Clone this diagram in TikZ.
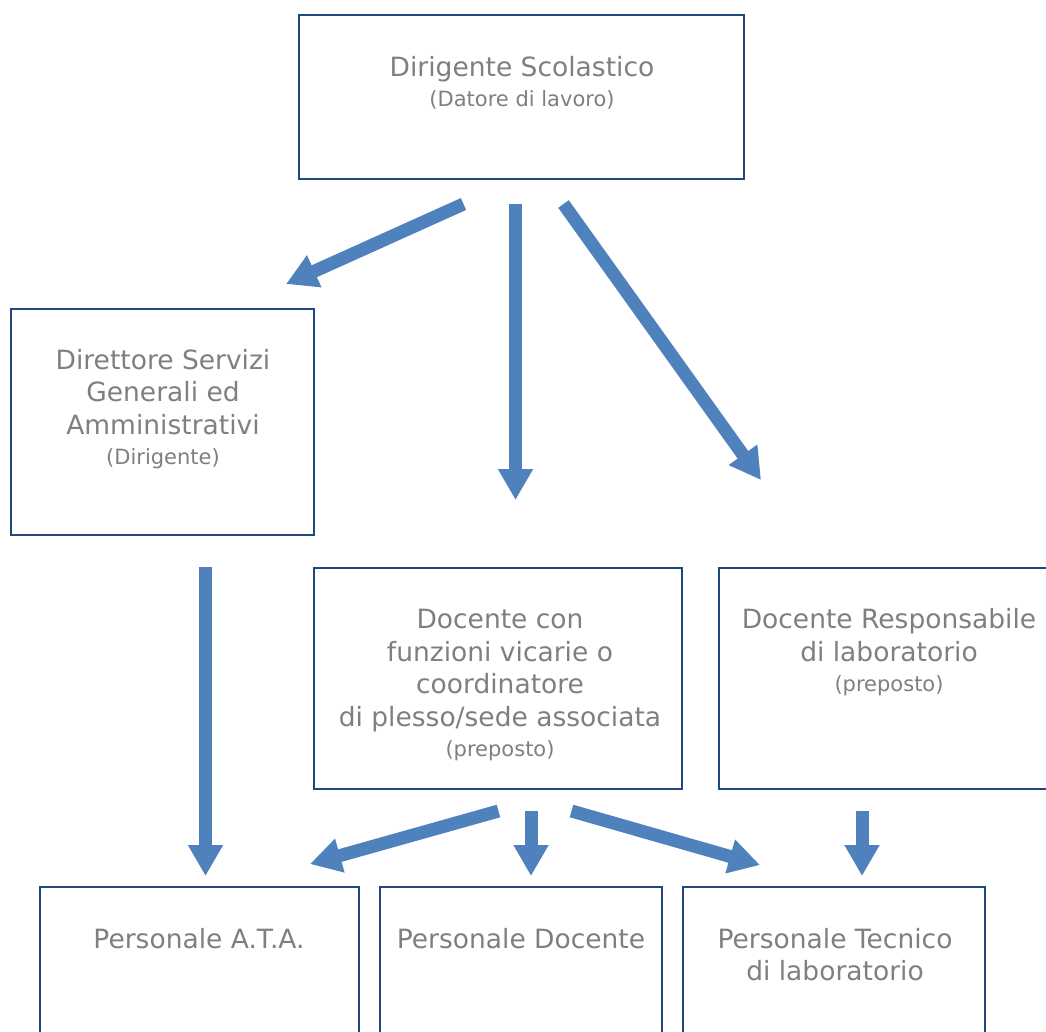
\documentclass[tikz,border=0pt]{standalone}
\usepackage{fontspec}
\setmainfont{DejaVu Sans}
\usetikzlibrary{arrows.meta}
\definecolor{boxblue}{HTML}{1F497D}
\definecolor{arrowblue}{HTML}{4F81BD}
\definecolor{textgray}{HTML}{7F7F7F}
\newcommand{\sub}[1]{{\fontsize{21}{26}\selectfont #1}}
\begin{document}
\begin{tikzpicture}[x=1pt,y=-1pt]
	\tikzset{box/.style = {shape=rectangle,draw=boxblue,line width=1.3pt,inner sep=0pt}}
	\tikzset{txt/.style = {align=center,text=textgray,inner sep=0pt,font=\fontsize{26.5}{32.5}\selectfont}}
	\tikzset{arr/.style = {draw=arrowblue,line width=13pt,-{Triangle[width=33pt,length=31pt,fill=arrowblue]}}}
	\useasboundingbox (0,0) rectangle (1046,1031);
	% boxes
	\node[box,minimum width=445pt,minimum height=164pt] (ds) at (521.5,97) {};
	\node[box,minimum width=303pt,minimum height=226pt] (dsga) at (162.5,422) {};
	\node[box,minimum width=368pt,minimum height=221pt] (vic) at (498,678.5) {};
	\node[box,minimum width=340pt,minimum height=221pt] (resp) at (889,678.5) {};
	\node[box,minimum width=319pt,minimum height=213pt] (ata) at (199.5,993.5) {};
	\node[box,minimum width=282pt,minimum height=213pt] (doc) at (521,993.5) {};
	\node[box,minimum width=302pt,minimum height=213pt] (tec) at (834,993.5) {};
	% texts
	\node[txt] (dstxt) at (522,83) {Dirigente Scolastico\\[-2.5pt]\sub{(Datore di lavoro)}};
	\node[txt] (dsgatxt) at (163,409) {Direttore Servizi\\Generali ed\\Amministrativi\\[-2.5pt]\sub{(Dirigente)}};
	\node[txt] (victxt) at (500,685) {Docente con\\funzioni vicarie o\\coordinatore\\di plesso/sede associata\\[-2.5pt]\sub{(preposto)}};
	\node[txt] (resptxt) at (889,652) {Docente Responsabile\\di laboratorio\\[-2.5pt]\sub{(preposto)}};
	\node[txt] (atatxt) at (199,939) {Personale A.T.A.};
	\node[txt] (doctxt) at (521,939) {Personale Docente};
	\node[txt] (tectxt) at (835,954.5) {Personale Tecnico\\di laboratorio};
	% arrow ends
	\coordinate (a1s) at (463.5,204);
	\coordinate (a1e) at (286,284);
	\coordinate (a2s) at (515.5,204);
	\coordinate (a2e) at (515.5,500);
	\coordinate (a3s) at (563.5,204);
	\coordinate (a3e) at (761,480);
	\coordinate (a4s) at (205.5,567);
	\coordinate (a4e) at (205.5,876);
	\coordinate (a5s) at (498.5,811);
	\coordinate (a5e) at (310,864);
	\coordinate (a6s) at (531,811);
	\coordinate (a6e) at (531,876);
	\coordinate (a7s) at (571.5,811);
	\coordinate (a7e) at (760,865);
	\coordinate (a8s) at (862,811);
	\coordinate (a8e) at (862,876);
	\draw[arr] (a1s) -- (a1e);
	\draw[arr] (a2s) -- (a2e);
	\draw[arr] (a3s) -- (a3e);
	\draw[arr] (a4s) -- (a4e);
	\draw[arr] (a5s) -- (a5e);
	\draw[arr] (a6s) -- (a6e);
	\draw[arr] (a7s) -- (a7e);
	\draw[arr] (a8s) -- (a8e);
\end{tikzpicture}
\end{document}
